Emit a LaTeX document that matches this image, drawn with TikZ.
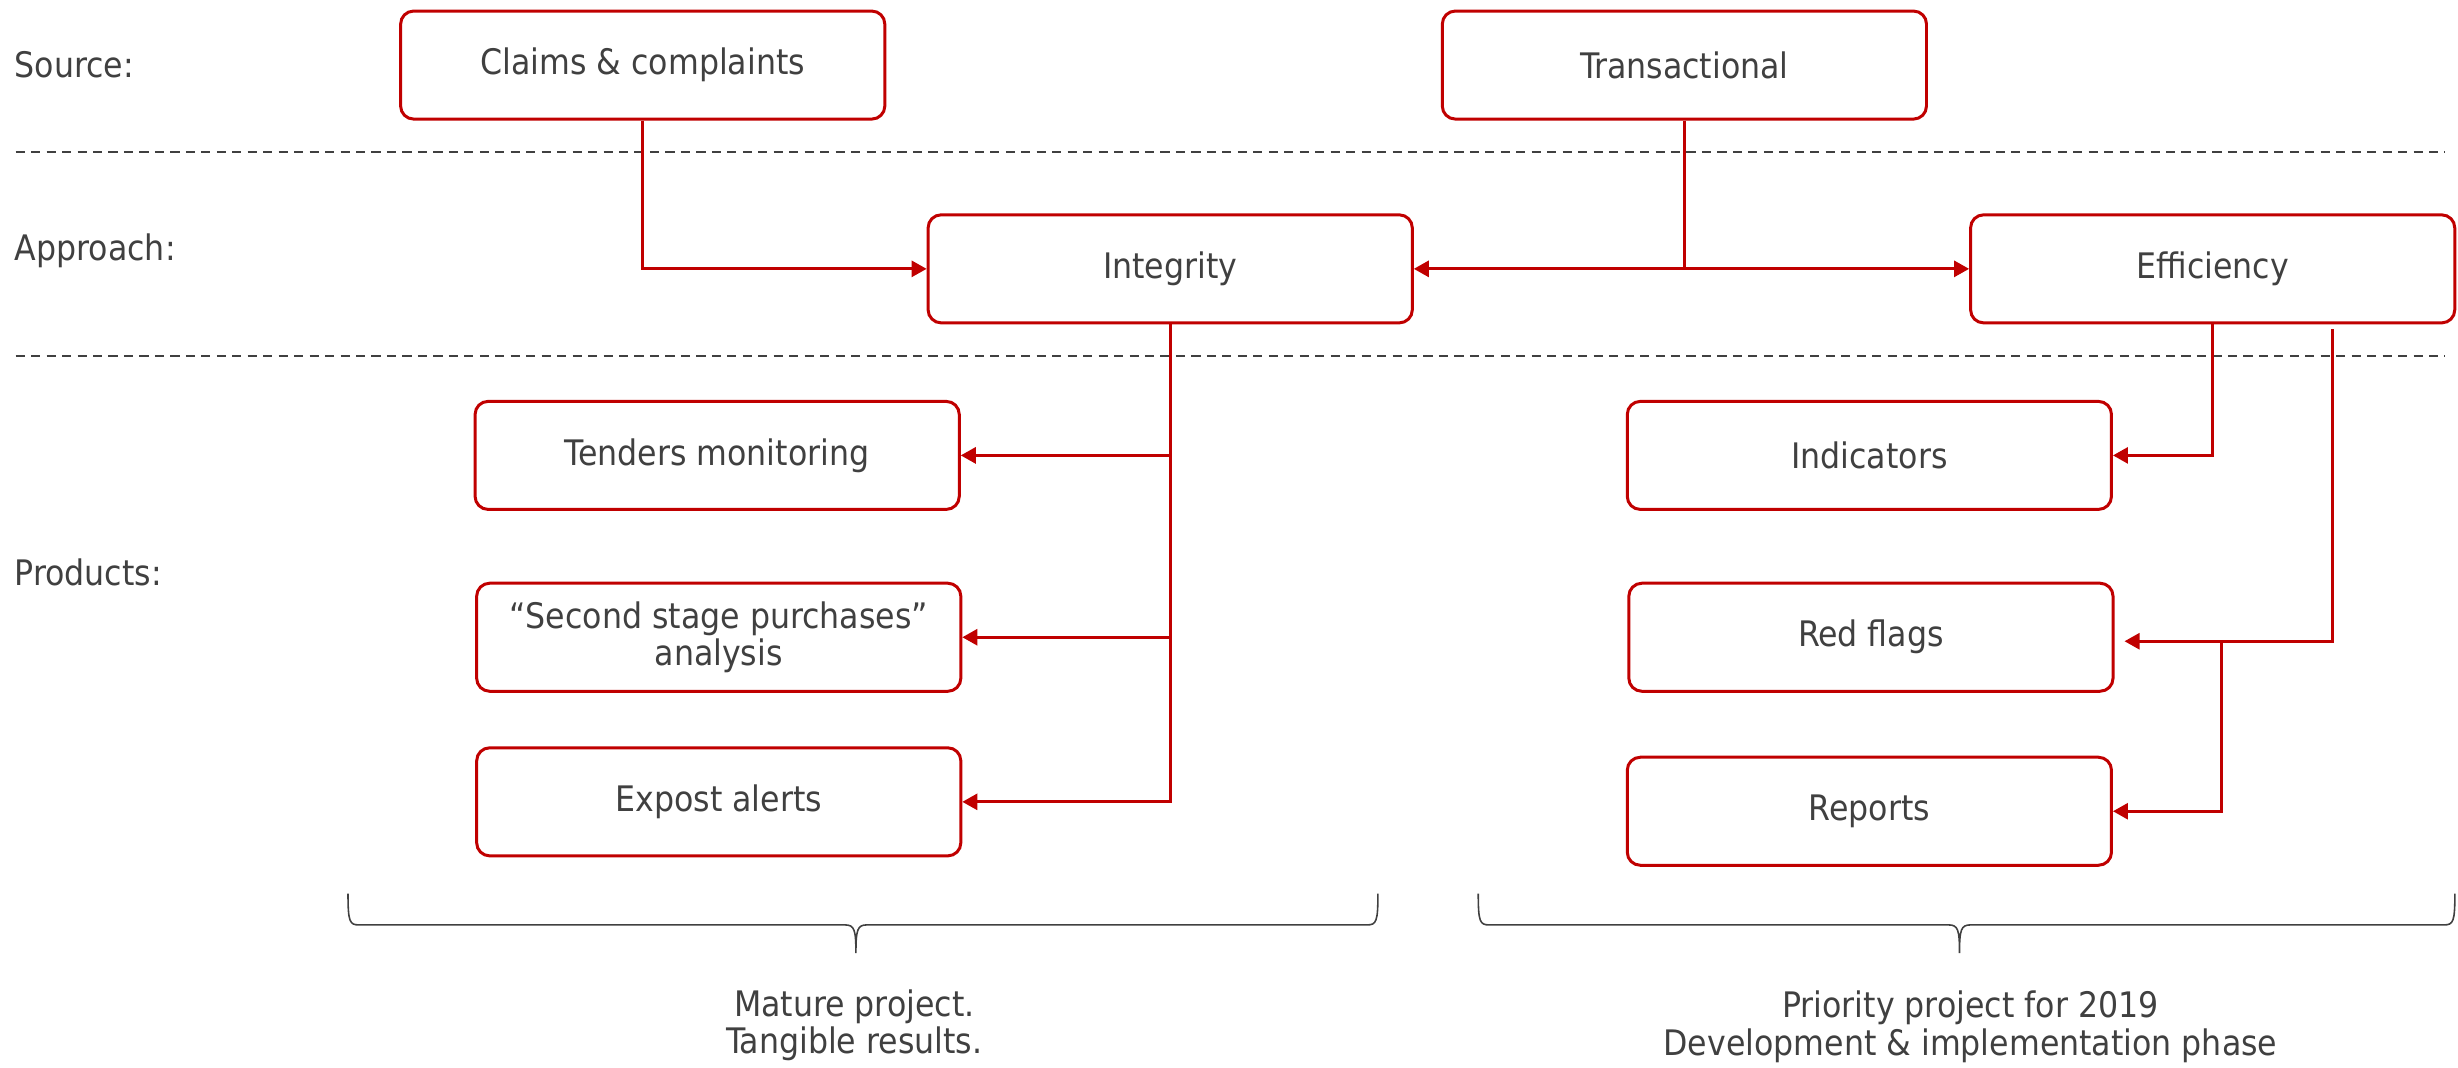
\documentclass[tikz,border=0pt]{standalone}
\usepackage{fontspec}
\setmainfont{DejaVu Sans Condensed}
\usepackage{xcolor}
\usetikzlibrary{positioning,arrows.meta}
\definecolor{darkred}{HTML}{C00000}
\definecolor{txtgray}{HTML}{404040}

\begin{document}
\begin{tikzpicture}[x=0.015676cm,y=-0.015676cm,>={Triangle[length=0.15cm,width=0.16cm]},auto,
    main node/.style={rectangle,rounded corners=0.13cm,draw=darkred,line width=0.85pt,minimum width=4.84cm,minimum height=1.08cm,inner sep=0pt,align=center,text=txtgray,font=\fontsize{10}{10.7}\selectfont},
    side node/.style={anchor=west,inner sep=0pt,text=txtgray,font=\fontsize{10}{10.7}\selectfont},
    note node/.style={align=center,inner sep=0pt,text=txtgray,font=\fontsize{10}{10.7}\selectfont},
    link/.style={->,draw=darkred,line width=0.8pt},
    sep line/.style={draw=txtgray,line width=0.65pt,dash pattern=on 2.6pt off 1.8pt},
    brace line/.style={draw=txtgray,line width=0.45pt}]
    \useasboundingbox (0,0) rectangle (1568,681);

    % rows
    \node[side node] (s) at (9,41) {Source:};
    \node[side node] (a) at (9,160) {Approach:};
    \node[side node] (p) at (9,365) {Products:};
    \draw[sep line] (10,97) -- (1560,97);
    \draw[sep line] (10,227) -- (1560,227);

    \node[main node] (1) at (410,41.5) {Claims \& complaints};
    \node[main node] (2) at (1074.5,41.5) {Transactional};
    \node[main node] (3) at (746.5,171.5) {Integrity};
    \node[main node] (4) at (1411.5,171.5) {Efficiency};
    \node[main node] (5) at (457.5,290.5) {Tenders monitoring};
    \node[main node] (6) at (458.5,406.5) {“Second stage purchases”\\analysis};
    \node[main node] (7) at (458.5,511.5) {Expost alerts};
    \node[main node] (8) at (1192.5,290.5) {Indicators};
    \node[main node] (9) at (1193.5,406.5) {Red flags};
    \node[main node] (10) at (1192.5,517.5) {Reports};

    \coordinate (e) at ([xshift=1.2cm,yshift=-0.05cm]4.south);
    \coordinate (j) at (1417,409);

    \draw[link] (1) |- (3);
    \draw[link] (2) |- (3);
    \draw[link] (2) |- (4);
    \draw[link] (3) |- (5);
    \draw[link] (3) |- (6);
    \draw[link] (3) |- (7);
    \draw[link] (4) |- (8);
    \draw[link,shorten >=0.1cm] (e) |- ([yshift=-0.04cm]9.east);
    \draw[link] (j) |- (10);

    % braces
    \draw[brace line] (222,570) .. controls (222,588) and (223,590) .. (229,590) -- (539,590)
        .. controls (545,590) and (546,593) .. (546,608)
        .. controls (546,593) and (547,590) .. (553,590) -- (872,590)
        .. controls (878,590) and (879,588) .. (879,570);
    \draw[brace line] (943,570) .. controls (943,588) and (944,590) .. (950,590) -- (1243,590)
        .. controls (1249,590) and (1250,593) .. (1250,608)
        .. controls (1250,593) and (1251,590) .. (1257,590) -- (1559,590)
        .. controls (1565,590) and (1566,588) .. (1566,570);
    \node[note node] (m) at (545,654) {Mature project.\\Tangible results.};
    \node[note node] (r) at (1257,655) {Priority project for 2019\\Development \& implementation phase};
\end{tikzpicture}
\end{document}
